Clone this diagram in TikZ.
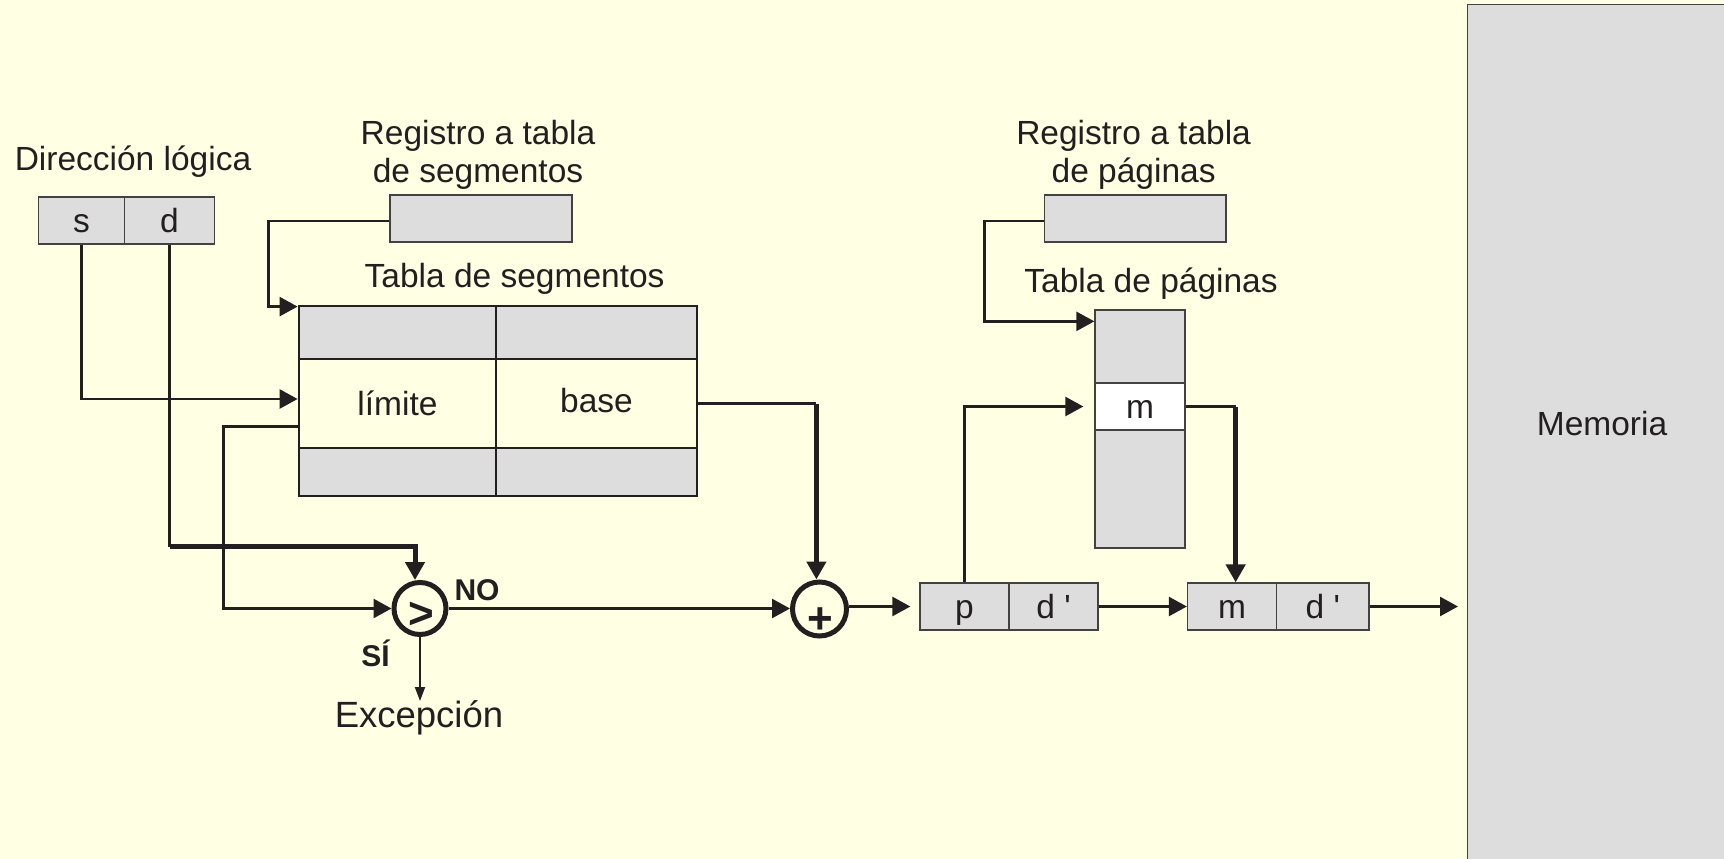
\documentclass[tikz,border=0pt]{standalone}
\usepackage{fontspec}
\setmainfont{Liberation Sans}
\usetikzlibrary{arrows.meta,calc}
\definecolor{bgc}{HTML}{FFFFE4}
\definecolor{boxg}{HTML}{DDDDDD}
\definecolor{ink}{HTML}{231F20}
\begin{document}
\begin{tikzpicture}[x=1pt,y=-1pt,
  lbl/.style={font=\fontsize{33.5}{38}\selectfont, text=ink, inner sep=0pt},
  cellbox/.style={draw=ink!85, line width=1.3pt, fill=boxg, inner sep=0pt, minimum height=47pt, text height=24pt, text depth=0pt, font=\fontsize{33.5}{38}\selectfont, text=ink},
  tcell/.style={draw=ink, line width=2.8pt, inner sep=0pt, text height=24pt, text depth=0pt, font=\fontsize{33.5}{38}\selectfont, text=ink},
  ln/.style={draw=ink, line width=2.6pt},
  thk/.style={draw=ink, line width=5pt},
  arr/.style={-{Triangle[length=18pt,width=19pt]}},
  smallarr/.style={-{Triangle[length=14pt,width=10pt]}},
  op/.style={circle, draw=ink, line width=5pt, fill=bgc, minimum size=52pt, inner sep=0pt},
  opsym/.style={font=\bfseries\fontsize{44}{44}\selectfont, text=ink, inner sep=0pt, anchor=base},
  bold/.style={font=\bfseries\fontsize{30}{30}\selectfont}
]
\fill[bgc] (0,0) rectangle (1724,859);
\clip (0,0) rectangle (1724,859);

% memory
\node[draw=ink!85, line width=1.3pt, fill=boxg, anchor=north west, minimum width=300pt, minimum height=900pt, inner sep=0pt] (mem) at (1467,4) {};
\node[lbl, anchor=base] (memlbl) at (1602,435.4) {Memoria};

% logical address
\node[lbl, anchor=base] (dirlog) at (133,170) {Dirección lógica};
\node[cellbox, minimum width=86pt] (sbox) at (81.5,220.5) {s};
\node[cellbox, minimum width=90pt] (dbox) at (169.5,220.5) {d};

% segment table register
\node[lbl, anchor=base] (rs1) at (478,144) {Registro a tabla};
\node[lbl, anchor=base] (rs2) at (478,182) {de segmentos};
\node[cellbox, minimum width=182pt] (regseg) at (481,218.5) {};

% segment table
\node[lbl, anchor=base] (tsl) at (514.6,287) {Tabla de segmentos};
\node[tcell, fill=boxg, minimum width=197pt, minimum height=53pt] (t11) at (397.5,332.5) {};
\node[tcell, fill=boxg, minimum width=201pt, minimum height=53pt] (t12) at (596.5,332.5) {};
\node[tcell, minimum width=197pt, minimum height=89pt] (lim) at (397.5,403.5) {límite};
\node[tcell, minimum width=201pt, minimum height=89pt, text height=17pt] (base) at (596.5,403.5) {base};
\node[tcell, fill=boxg, minimum width=197pt, minimum height=48pt] (t31) at (397.5,472) {};
\node[tcell, fill=boxg, minimum width=201pt, minimum height=48pt] (t32) at (596.5,472) {};

% operators
\node[op] (cmp) at (420,608.5) {};
\node[opsym] (cmpsym) at (421,628.4) {>};
\node[op, minimum size=54pt] (plus) at (819.5,609) {};
\node[opsym] (plussym) at (820,633) {+};
\node[lbl, bold, anchor=base] (no) at (477,600) {NO};
\node[lbl, bold, anchor=base] (si) at (375.6,666.7) {SÍ};
\node[lbl, font=\fontsize{36.5}{40}\selectfont, anchor=base] (exc) at (419,727) {Excepción};

% page table register
\node[lbl, anchor=base] (rp1) at (1133.6,144) {Registro a tabla};
\node[lbl, anchor=base] (rp2) at (1133.6,182) {de páginas};
\node[cellbox, minimum width=181.5pt] (regpag) at (1135.25,218.5) {};

% page table
\node[lbl, anchor=base] (tpl) at (1151,292.5) {Tabla de páginas};
\node[cellbox, minimum width=90pt, minimum height=73pt] (ptop) at (1140,346.5) {};
\node[cellbox, fill=white, minimum width=90pt, minimum height=47pt] (mrow) at (1140,406.5) {m};
\node[cellbox, minimum width=90pt, minimum height=118pt] (pbot) at (1140,489) {};

% addresses
\node[cellbox, minimum width=89pt] (pbox) at (964.5,606.5) {p};
\node[cellbox, minimum width=89pt] (d1) at (1053.5,606.5) {d \textquotesingle};
\node[cellbox, minimum width=89pt] (mbox) at (1232,606.5) {m};
\node[cellbox, minimum width=92.5pt] (d2) at (1322.75,606.5) {d \textquotesingle};

% connectors
\draw[ln, arr] ([yshift=-2.5pt]regseg.west) -- ++(-121,0) |- ([yshift=-2pt]t11.north west);
\draw[ln, arr] (sbox.south) |- ([yshift=4.5pt]lim.west);
\draw[ln, arr] ([yshift=-23pt]lim.west) -- ++(-74,0) |- (cmp.west);
\draw[ln] (dbox.south) -- ++(0,302) coordinate (dcorner);
\draw[thk, arr] (dcorner) -| ([xshift=-5pt]cmp.north);
\draw[ln, arr] (cmp.east) -- (plus.west |- cmp.east);
\draw[ln] (base.east) -- ++(118,0) coordinate (bcorner);
\draw[thk, arr] (bcorner) -- (bcorner |- plus.north);
\draw[draw=ink, line width=2pt, smallarr] (cmp.south) -- ++(0,64) coordinate (exctip);
\draw[ln, arr] (plus.east |- pbox.west) -- ([xshift=-9pt]pbox.west);
\draw[ln, arr] (d1.east) -- (mbox.west);
\path (mem.west |- d2.east) coordinate (memin);
\draw[ln, arr] (d2.east) -- ([xshift=-9pt]memin);
\draw[ln, arr] (pbox.north) |- ([xshift=-11pt]mrow.west);
\draw[ln] (mrow.east) -- ++(50,0) coordinate (mcorner);
\draw[thk, arr] (mcorner) -- (mcorner |- mbox.north);
\draw[ln, arr] ([yshift=-2.5pt]regpag.west) -- ++(-59.5,0) |- ([yshift=-12pt]ptop.north west);
\end{tikzpicture}
\end{document}
